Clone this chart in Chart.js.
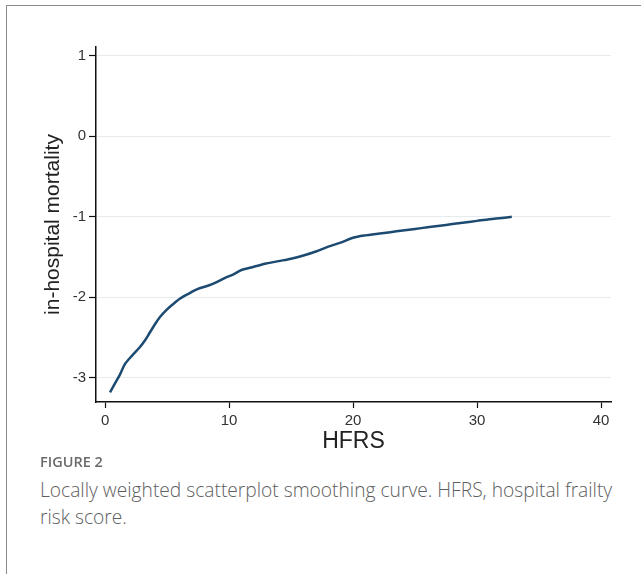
<!DOCTYPE html>
<html>
<head>
<meta charset="utf-8">
<script src="https://cdn.jsdelivr.net/npm/chart.js@4"></script>
<style>
  html, body { margin: 0; padding: 0; background: #fff; }
  body { width: 641px; height: 574px; position: relative; overflow: hidden; }
  #frame { position: absolute; left: 6px; top: 5px; width: 660px; height: 600px;
           border-left: 1.5px solid #8a8a8a; border-top: 1.5px solid #8a8a8a; }
  #chartBox { position: absolute; left: 0; top: 0; width: 641px; height: 460px; }
  #figLabel { position: absolute; left: 40px; top: 452px; font-family: "Open Sans", sans-serif;
              font-size: 14.5px; font-weight: 600; color: #6a6a6a; }
  #caption { position: absolute; left: 40px; top: 476px; width: 592px; font-family: "Open Sans", sans-serif;
             font-size: 19.2px; font-weight: 300; line-height: 27px; color: #5e5e5e; }
</style>
</head>
<body>
<div id="frame"></div>
<div id="chartBox"><canvas id="lowessChart"></canvas></div>
<div id="figLabel">FIGURE 2</div>
<div id="caption">Locally weighted scatterplot smoothing curve. HFRS, hospital frailty risk score.</div>

<script>
// --------------------------------------
// Data
// --------------------------------------
const hfrs = [0.4, 0.8, 1.2, 1.6, 2.2, 2.8, 3.2, 3.6, 4.0, 4.4, 5.0, 5.6, 6.0, 6.8, 7.4,
              8.4, 9.0, 9.8, 10.4, 11.0, 12.0, 13.0, 14.0, 15.0, 16.0, 17.0, 18.0, 19.0,
              20.0, 21.0, 22.0, 23.0, 24.0, 25.0, 26.0, 27.0, 28.0, 29.0, 30.0, 31.0, 32.0, 32.8];
const mortality = [-3.18, -3.07, -2.96, -2.83, -2.72, -2.62, -2.54, -2.44, -2.34, -2.25, -2.15,
                   -2.07, -2.02, -1.95, -1.90, -1.85, -1.81, -1.75, -1.71, -1.66, -1.62, -1.58,
                   -1.55, -1.52, -1.48, -1.43, -1.37, -1.32, -1.26, -1.23, -1.21, -1.19, -1.17,
                   -1.15, -1.13, -1.11, -1.09, -1.07, -1.05, -1.03, -1.015, -1.0];
const xTicks = [0, 10, 20, 30, 40];
const yTicks = [-3, -2, -1, 0, 1];

const tickFont = { family: 'Arial, "Liberation Sans", sans-serif', size: 15 };

// --------------------------------------
// Chart
// --------------------------------------
const ctx = document.getElementById('lowessChart').getContext('2d');
new Chart(ctx, {
  type: 'line',
  data: {
    datasets: [{
      data: hfrs.map((x, i) => ({ x: x, y: mortality[i] })),
      borderColor: '#1c4a70',
      borderWidth: 2.5,
      pointRadius: 0,
      tension: 0.3,
      fill: false
    }]
  },
  options: {
    responsive: true,
    maintainAspectRatio: false,
    animation: false,
    layout: { padding: { top: 47, right: 30, left: 36, bottom: 0 } },
    plugins: { legend: { display: false }, tooltip: { enabled: false } },
    scales: {
      x: {
        type: 'linear',
        min: -0.73,
        max: 40.8,
        afterBuildTicks: s => { s.ticks = xTicks.map(v => ({ value: v })); },
        afterFit: s => { s.height = 58; },
        border: { color: '#111', width: 1.5 },
        grid: { drawOnChartArea: false, drawTicks: true, tickLength: 6, tickColor: '#111', tickWidth: 1.2 },
        ticks: { color: '#333', font: tickFont, padding: 4, maxRotation: 0 },
        title: { display: true, text: 'HFRS', color: '#222',
                 font: { family: 'Arial, "Liberation Sans", sans-serif', size: 23 }, padding: { top: 0, bottom: 5 } }
      },
      y: {
        type: 'linear',
        min: -3.3,
        max: 1.11,
        afterBuildTicks: s => { s.ticks = yTicks.map(v => ({ value: v })); },
        afterFit: s => { s.width = 60; },
        border: { color: '#111', width: 1.5 },
        grid: { color: '#e6eced', lineWidth: 1, drawTicks: true, tickLength: 7, tickColor: '#111', tickWidth: 1.2 },
        ticks: { color: '#333', font: tickFont, padding: 3 },
        title: { display: true, text: 'in-hospital mortality', color: '#222',
                 font: { family: 'Arial, "Liberation Sans", sans-serif', size: 21 }, padding: { top: 5, bottom: 0 } }
      }
    }
  }
});
</script>
</body>
</html>
